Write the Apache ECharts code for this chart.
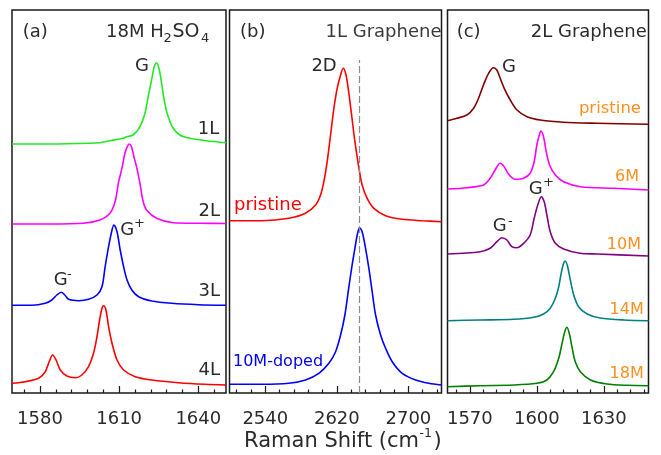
<!DOCTYPE html>
<html>
<head>
<meta charset="utf-8">
<script src="https://cdn.jsdelivr.net/npm/echarts@6/dist/echarts.min.js"></script>
<style>
  html, body { margin: 0; padding: 0; background: #fff; }
  #chart { width: 661px; height: 455px; }
</style>
</head>
<body>
<div id="chart"></div>
<script>
// Raman spectra: (a) G band of 1-4 layer graphene in 18M H2SO4,
// (b) 2D band of 1L graphene, (c) G band of 2L graphene vs acid concentration.
// Each spectrum is a list of [Raman shift (cm^-1), intensity + vertical offset (a.u.)].

// ---- panel (a): x range and ticks
const rangeA = [1569.4, 1650.5];
const ticksA = [1580, 1610, 1640];
const minorA = [1574, 1586, 1592, 1598, 1604, 1616, 1622, 1628, 1634, 1646];

const a1L = [[1569.4,249],[1583.8,249],[1598.9,249.7],[1602.7,250.3],[1606.5,252.3],[1611.6,254.7],[1612.8,256.3],[1615.3,258],[1617.9,266.3],[1619.8,279.7],[1621.0,296.3],[1622.3,313],[1623.3,326.3],[1624.1,330.3],[1625.1,324.7],[1626.1,309.7],[1627.3,289.7],[1628.6,276.3],[1630.5,264.7],[1633.0,258],[1636.8,254.7],[1643.1,252.3],[1650.5,250.3]];
const a2L = [[1569.4,169],[1583.8,169],[1596.4,169.7],[1602.7,173],[1606.5,179.7],[1608.5,191.5],[1609.7,209.7],[1611.2,226.3],[1612.2,239.7],[1613.1,246.3],[1613.8,249],[1614.7,246.3],[1615.6,236.3],[1616.6,226.3],[1617.9,209.7],[1619.1,191.5],[1620.4,183],[1624.2,174.7],[1630.5,170.3],[1640.6,169.7],[1650.5,169.5]];
const a3L = [[1569.4,87.7],[1577.0,87.7],[1582.0,89.7],[1584.5,93],[1586.4,98],[1588.1,100.7],[1589.4,98],[1590.9,93.7],[1594.7,92.3],[1598.4,93.7],[1601.6,98],[1603.5,106.3],[1604.7,126.3],[1606.0,146.3],[1607.3,163],[1608.0,168],[1609.2,161.3],[1610.4,143],[1611.7,126.3],[1613.0,113],[1614.8,103],[1617.4,96.3],[1622.4,92],[1630.0,89.7],[1640.1,88.3],[1650.5,87.7]];
const a4L = [[1569.4,9.7],[1574.4,11.3],[1579.5,14.7],[1582.0,21.3],[1583.5,31.3],[1584.8,38],[1586.1,33],[1587.7,23],[1590.2,17],[1593.4,15.3],[1595.9,18],[1598.4,26.3],[1600.3,39.7],[1601.6,56.3],[1602.6,73],[1603.5,84.7],[1604.1,87.3],[1605.0,83],[1606.0,66.3],[1607.3,49.7],[1609.2,33],[1611.7,23],[1616.1,16.3],[1622.4,13],[1632.5,10.3],[1642.6,8.7],[1650.5,8]];

// ---- panel (b)
const rangeB = [2500, 2737];
const ticksB = [2540, 2620, 2700];
const minorB = [2508, 2524, 2556, 2572, 2588, 2604, 2636, 2652, 2668, 2684, 2716, 2732];
const dopedPeakShift = 2644.6;

const bPristine = [[2500,172.3],[2536.5,172.3],[2566.3,174.7],[2585.0,179.7],[2596.2,188],[2601.8,198],[2605.5,211.3],[2609.2,231.3],[2613.0,258],[2616.7,284.7],[2620.4,304.7],[2624.2,318],[2627.1,324.7],[2629.8,319.7],[2632.7,304.7],[2636.5,278],[2640.2,251.3],[2644.7,224.7],[2648.3,208],[2653.9,194.7],[2661.4,184.7],[2674.5,177.3],[2693.1,173.7],[2715.4,172.3],[2737,171.3]];
const bDoped = [[2500,8.7],[2536.5,8.7],[2566.3,9.7],[2585.0,13],[2599.9,19.7],[2611.1,29.7],[2618.6,41.3],[2624.2,58],[2629.0,78],[2632.7,101.3],[2636.5,124.7],[2640.2,144.7],[2643.2,159.7],[2645.4,165.3],[2648.3,161.3],[2652.1,144.7],[2655.8,124.7],[2659.5,101.3],[2663.3,78],[2668.9,58],[2674.5,44.7],[2681.9,31.3],[2693.1,19.7],[2708.1,13],[2722.9,9.7],[2737,8]];

// ---- panel (c)
const rangeC = [1560, 1650];
const ticksC = [1570, 1600, 1630];
const minorC = [1564, 1576, 1582, 1588, 1594, 1606, 1612, 1618, 1624, 1636, 1642, 1648];

const cPristine = [[1560,272.3],[1564.2,274.7],[1568.7,278],[1571.7,284.7],[1573.9,294.7],[1576.1,308],[1578.4,319.7],[1580.6,325.3],[1582.1,323],[1583.6,314.7],[1585.4,304.7],[1588.1,293],[1591.1,283],[1595.6,276.3],[1601.5,273],[1612.0,270.7],[1627.0,269.7],[1650,268.7]];
const c6M = [[1560,204],[1568.7,205.3],[1576.1,208],[1579.1,214.7],[1581.3,223],[1583.6,229.7],[1585.4,226.3],[1587.4,218.7],[1590.3,213.7],[1594.1,214.7],[1597.0,219.7],[1598.8,231.3],[1600.0,248],[1601.1,258],[1601.8,262],[1603.0,256.3],[1604.2,241.3],[1605.7,228],[1608.3,218],[1612.0,211.3],[1619.5,206.3],[1634.4,204.7],[1650,203]];
const c10M = [[1560,139],[1574.6,141.3],[1579.1,144.7],[1582.1,151.3],[1584.3,155.3],[1586.6,153],[1588.8,146.3],[1591.1,145.3],[1594.1,149.7],[1597.0,158],[1598.8,174.7],[1600.4,188],[1602.0,196.3],[1603.3,191.3],[1604.5,178],[1606.0,161.3],[1608.3,149.7],[1612.0,144],[1619.3,139.7],[1627.0,139],[1650,137]];
const c14M = [[1560,72.3],[1574.6,73],[1589.6,73.7],[1598.6,75.7],[1603.0,79],[1606.0,84.7],[1608.3,94.7],[1609.8,106.3],[1610.9,119.7],[1612.0,129.7],[1612.7,132],[1613.8,126.3],[1615.0,113],[1616.5,98],[1618.7,86.3],[1622.5,79],[1628.4,75],[1638.9,73],[1650,72.3]];
const c18M = [[1560,6.3],[1574.6,7.3],[1589.6,8],[1600.0,9.7],[1604.5,13],[1607.5,21.3],[1609.8,34.7],[1611.3,49.7],[1612.5,61.3],[1613.5,65.7],[1614.7,58],[1615.7,46.3],[1617.2,31.3],[1619.5,21.3],[1624.0,13],[1631.4,9],[1640.4,7.7],[1650,7.3]];

const yRange = [0, 383];

const FONT = 'DejaVu Sans';
const INK = '#2b2b2b';
const ORANGE = '#ff8f1f';

const panels = [
  { left: 12,    width: 214, range: rangeA, ticks: ticksA, minor: minorA },
  { left: 229.5, width: 212, range: rangeB, ticks: ticksB, minor: minorB },
  { left: 447.5, width: 201, range: rangeC, ticks: ticksC, minor: minorC }
];

const grids = panels.map(p => ({
  left: p.left, top: 10, width: p.width, height: 383,
  show: true, borderColor: '#1a1a1a', borderWidth: 1.5, backgroundColor: 'transparent'
}));

const xMain = panels.map((p, i) => ({
  gridIndex: i, type: 'value', min: p.range[0], max: p.range[1], position: 'bottom',
  axisLine: { show: false }, splitLine: { show: false },
  axisTick: { show: true, inside: true, length: 7, customValues: p.ticks, lineStyle: { color: '#1a1a1a', width: 1.2 } },
  axisLabel: { customValues: p.ticks, formatter: v => String(v), fontFamily: FONT, fontSize: 18, color: INK, margin: 17 }
}));
const xMinor = panels.map((p, i) => ({
  gridIndex: i, type: 'value', min: p.range[0], max: p.range[1], position: 'bottom',
  axisLine: { show: false }, splitLine: { show: false },
  axisTick: { show: true, inside: true, length: 3.5, customValues: p.minor, lineStyle: { color: '#1a1a1a', width: 1.2 } },
  axisLabel: { show: false }
}));

const yAxes = panels.map((p, i) => ({
  gridIndex: i, type: 'value', min: yRange[0], max: yRange[1], show: false
}));

function spectrum(panel, data, color, extra) {
  return Object.assign({
    type: 'line', xAxisIndex: panel, yAxisIndex: panel, data: data,
    symbol: 'none', smooth: 0.3, lineStyle: { color: color, width: 1.6 },
    silent: true, animation: false
  }, extra || {});
}

const series = [
  spectrum(0, a1L, '#22ea22'),
  spectrum(0, a2L, '#ff00ff'),
  spectrum(0, a3L, '#0000ff'),
  spectrum(0, a4L, '#ff0000'),
  spectrum(1, bPristine, '#ff0000'),
  spectrum(1, bDoped, '#0000ff', {
    markLine: {
      silent: true, symbol: ['none', 'none'], label: { show: false },
      lineStyle: { type: [7, 3], color: '#8c8c8c', width: 1.2 },
      data: [[{ coord: [dopedPeakShift, 0] }, { coord: [dopedPeakShift, 333] }]]
    }
  }),
  spectrum(2, cPristine, '#800000'),
  spectrum(2, c6M, '#ff00ff'),
  spectrum(2, c10M, '#800080'),
  spectrum(2, c14M, '#008080'),
  spectrum(2, c18M, '#008000')
];

function txt(x, y, text, size, color, align) {
  return {
    type: 'text', x: x, y: y, silent: true, z: 10,
    style: { text: text, fontFamily: FONT, fontSize: size, fill: color, align: align || 'left', verticalAlign: 'middle' }
  };
}

const labels = [
  // panel (a)
  txt(22.7, 32.3, '(a)', 18, INK),
  txt(106, 32.5, '18M H', 18, INK),
  txt(163.5, 38.3, '2', 13, INK),
  txt(172.5, 32.5, 'SO', 19, INK),
  txt(201, 38.3, '4', 13, INK),
  txt(149, 66.7, 'G', 18, INK, 'right'),
  txt(219.3, 129.7, '1L', 18, INK, 'right'),
  txt(220, 211.7, '2L', 18, INK, 'right'),
  txt(120.3, 230.3, 'G', 18, INK),
  txt(134, 223.3, '+', 13, INK),
  txt(220, 291.7, '3L', 18, INK, 'right'),
  txt(53.7, 280, 'G', 18, INK),
  txt(67, 274.5, '-', 13, INK),
  txt(220, 370, '4L', 18, INK, 'right'),
  // panel (b)
  txt(240, 32.3, '(b)', 18, INK),
  txt(441.5, 32.3, '1L Graphene', 18, '#3a3a3a', 'right'),
  txt(336.7, 66.7, '2D', 18, INK, 'right'),
  txt(234, 205.5, 'pristine', 18, '#ff0000'),
  txt(233, 361.7, '10M-doped', 16, '#0000ee'),
  // panel (c)
  txt(456.7, 32.3, '(c)', 18, INK),
  txt(646.7, 32.3, '2L Graphene', 18, INK, 'right'),
  txt(502, 67, 'G', 18, INK),
  txt(641, 108.5, 'pristine', 16.5, ORANGE, 'right'),
  txt(639, 177.2, '6M', 16, ORANGE, 'right'),
  txt(528.7, 189, 'G', 18, INK),
  txt(543, 183, '+', 13, INK),
  txt(492.7, 226.7, 'G', 18, INK),
  txt(508, 221.5, '-', 13, INK),
  txt(641, 244.5, '10M', 16, ORANGE, 'right'),
  txt(643.7, 309.7, '14M', 16, ORANGE, 'right'),
  txt(643.7, 374, '18M', 16, ORANGE, 'right'),
  // shared axis title
  txt(419, 442, 'Raman Shift (cm', 21, INK, 'right'),
  txt(419.5, 434, '-1', 12.5, INK),
  txt(433.5, 442, ')', 21, INK)
];

const chart = echarts.init(document.getElementById('chart'), null, { renderer: 'canvas' });
chart.setOption({
  animation: false,
  backgroundColor: '#ffffff',
  grid: grids,
  xAxis: xMain.concat(xMinor),
  yAxis: yAxes,
  series: series,
  graphic: labels
});
</script>
</body>
</html>
